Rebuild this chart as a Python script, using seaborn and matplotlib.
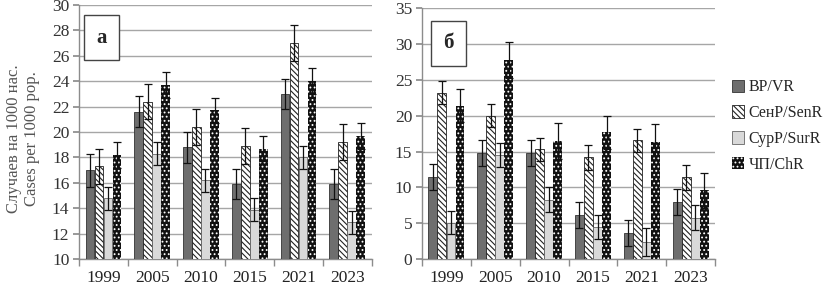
import pandas as pd
import numpy as np
import matplotlib
matplotlib.use('Agg')
import matplotlib.pyplot as plt
import seaborn as sns

years = ['1999', '2005', '2010', '2015', '2021', '2023']
groups = ['ВР/VR', 'СенР/SenR', 'СурР/SurR', 'ЧП/ChR']

# panel а
a_vr = [17.0, 21.6, 18.8, 15.9, 23.0, 15.9]
a_sen = [17.3, 22.4, 20.4, 18.9, 27.0, 19.2]
a_sur = [14.8, 18.3, 16.2, 13.9, 18.0, 12.9]
a_chr = [18.2, 23.7, 21.7, 18.7, 24.0, 19.7]
a_err_vr = [1.3, 1.2, 1.2, 1.2, 1.2, 1.2]
a_err_sen = [1.4, 1.4, 1.4, 1.4, 1.4, 1.4]
a_err_sur = [0.9, 0.9, 0.9, 0.9, 0.9, 0.9]
a_err_chr = [1.0, 1.0, 1.0, 1.0, 1.0, 1.0]

# panel б
b_vr = [11.4, 14.8, 14.8, 6.2, 3.6, 8.0]
b_sen = [23.2, 20.0, 15.3, 14.2, 16.6, 11.4]
b_sur = [5.1, 14.5, 8.3, 4.5, 2.4, 5.8]
b_chr = [21.4, 27.8, 16.5, 17.7, 16.3, 9.6]
b_err_vr = [1.8, 1.8, 1.8, 1.8, 1.8, 1.8]
b_err_sen = [1.6, 1.6, 1.6, 1.7, 1.6, 1.7]
b_err_sur = [1.6, 1.7, 1.7, 1.7, 1.9, 1.7]
b_err_chr = [2.3, 2.5, 2.5, 2.3, 2.5, 2.4]

sns.set_theme(style='white')
plt.rcParams['font.family'] = ['Liberation Serif', 'DejaVu Serif']
plt.rcParams['hatch.linewidth'] = 0.8

faces = ['#6e6e6e', 'white', '#d9d9d9', '#111111']
hatches = [None, '\\\\\\\\\\\\', None, '....']
edges = ['#333333', '#222222', '#666666', 'white']
lws = [0.6, 0.6, 0.6, 0.0]


def draw(ax, vals, errs, ylim, yticks, tag, tag_pos):
    df = pd.DataFrame({
        'year': years * 4,
        'group': [g for g in groups for _ in years],
        'value': sum(vals, []),
    })
    sns.barplot(data=df, x='year', y='value', hue='group', order=years,
                hue_order=groups, errorbar=None, width=0.74, gap=0.04,
                ax=ax, legend=False, zorder=3)
    bars = list(ax.containers)
    for i, cont in enumerate(bars):
        for p in cont.patches:
            p.set_facecolor(faces[i])
            p.set_edgecolor(edges[i])
            p.set_linewidth(lws[i])
            if hatches[i]:
                p.set_hatch(hatches[i])
        xs = [p.get_x() + p.get_width() / 2 for p in cont.patches]
        ax.errorbar(xs, vals[i], yerr=errs[i], fmt='none', ecolor='#111111',
                    elinewidth=0.9, capsize=3, capthick=0.9, zorder=4)
    ax.set_ylim(*ylim)
    ax.set_yticks(yticks)
    ax.set_xlim(-0.5, 5.5)
    ax.yaxis.grid(True, color='#a6a6a6', linewidth=1.0, zorder=0)
    ax.set_axisbelow(True)
    for s in ['top', 'right']:
        ax.spines[s].set_visible(False)
    for s in ['left', 'bottom']:
        ax.spines[s].set_color('#8c8c8c')
        ax.spines[s].set_linewidth(1.0)
    ax.set_xlabel('')
    ax.set_ylabel('')
    ax.tick_params(axis='y', left=True, length=4, color='#8c8c8c',
                   labelsize=12.5, labelcolor='#333333', pad=3)
    ax.set_xticks(range(len(years)))
    ax.set_xticklabels(years)
    ax.tick_params(axis='x', bottom=False, labelsize=12.5, labelcolor='#222222', pad=2)
    ax.set_xticks(np.arange(-0.5, 6, 1), minor=True)
    ax.tick_params(axis='x', which='minor', bottom=True, length=5, color='#8c8c8c')
    ax.text(tag_pos[0], tag_pos[1], tag, transform=ax.transAxes, fontsize=15,
            fontweight='bold', ha='center', va='center',
            bbox=dict(boxstyle='square,pad=0.6', fc='white', ec='#444444', lw=1))
    return bars


fig = plt.figure(figsize=(8.24, 2.88), dpi=100)
ax1 = fig.add_axes([0.096, 0.1, 0.355, 0.883])
ax2 = fig.add_axes([0.512, 0.1, 0.356, 0.872])

draw(ax1, [a_vr, a_sen, a_sur, a_chr], [a_err_vr, a_err_sen, a_err_sur, a_err_chr],
     (10, 30), range(10, 31, 2), 'а', (0.076, 0.87))
bars2 = draw(ax2, [b_vr, b_sen, b_sur, b_chr], [b_err_vr, b_err_sen, b_err_sur, b_err_chr],
             (0, 35), range(0, 36, 5), 'б', (0.09, 0.86))

fig.text(0.028, 0.52, 'Случаев на 1000 нас.\nCases per 1000 pop.', rotation=90,
         ha='center', va='center', fontsize=12, color='#555555', linespacing=1.1)

handles = [bars2[i].patches[0] for i in range(4)]
fig.legend(handles, groups, loc='upper left', bbox_to_anchor=(0.888, 0.725),
           frameon=False, fontsize=11.5, handlelength=0.8, handleheight=0.8,
           handletextpad=0.25, labelspacing=0.62, borderaxespad=0, borderpad=0)

fig.savefig('out.png', dpi=100)
